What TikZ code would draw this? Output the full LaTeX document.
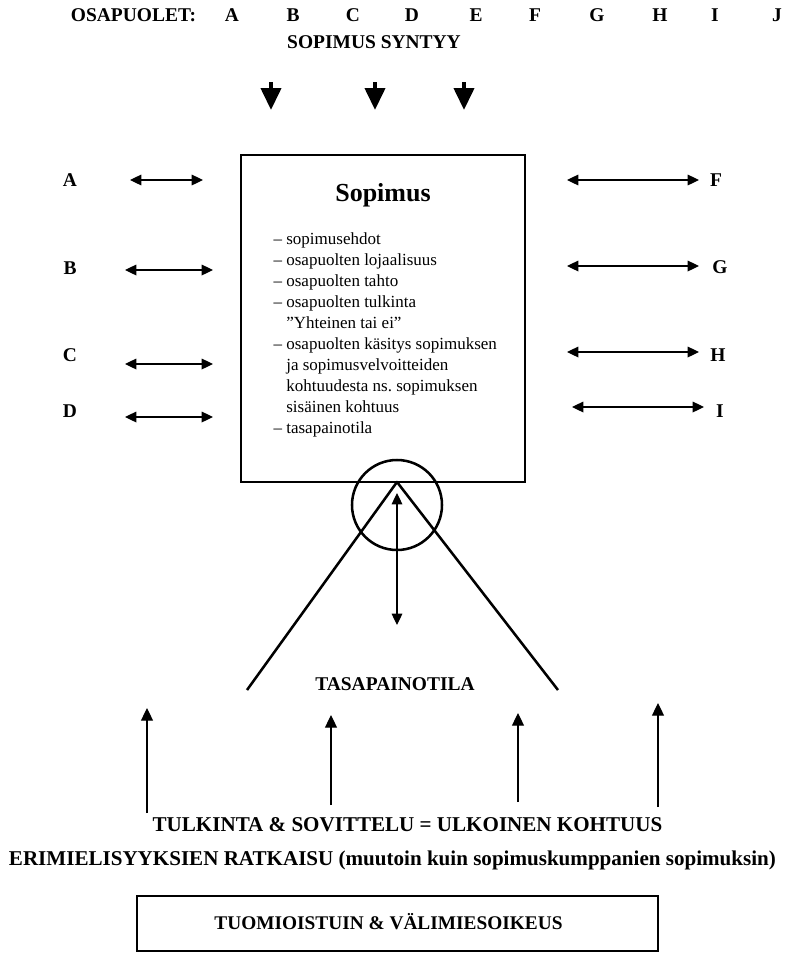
\documentclass[tikz,border=0pt]{standalone}
\usepackage{fontspec}
\setmainfont{Liberation Serif}
\usetikzlibrary{arrows.meta, positioning}
\tikzset{
  every picture/.style={line width=0.9pt},
  lbl/.style={font=\fontsize{14.6}{17}\selectfont\bfseries, inner sep=0pt, anchor=base},
  biglbl/.style={font=\fontsize{15.8}{18}\selectfont\bfseries, inner sep=0pt, anchor=base},
  frame/.style={draw, line width=2.2pt, inner sep=0pt},
  heavy/.style={-{Triangle[length=16.5pt, width=15pt]}, line width=3pt},
  twoway/.style={{Triangle[length=8.5pt, width=8pt]}-{Triangle[length=8.5pt, width=8pt]}, line width=0.9pt},
  rise/.style={-{Triangle[length=9.5pt, width=9pt]}, line width=0.9pt},
  terms/.style={font=\fontsize{12.75}{15.7}\selectfont, align=left, inner sep=0pt, anchor=north west},
}

\begin{document}
\begin{tikzpicture}[x=0.75pt, y=-0.75pt]
  \useasboundingbox (0,0) rectangle (794,954);
  % ---- parties
  \node[lbl] (osap) at (133.5,21.7) {OSAPUOLET:};
  \node[lbl] (tA) at (232,21.7) {A}; \node[lbl] (tB) at (293,21.7) {B}; \node[lbl] (tC) at (353,21.7) {C};
  \node[lbl] (tD) at (412,21.7) {D}; \node[lbl] (tE) at (476,21.7) {E}; \node[lbl] (tF) at (535,21.7) {F};
  \node[lbl] (tG) at (597,21.7) {G}; \node[lbl] (tH) at (660,21.7) {H}; \node[lbl] (tI) at (715,21.7) {I};
  \node[lbl] (tJ) at (777,21.7) {J};
  \node[lbl] (syntyy) at (374,48.3) {SOPIMUS SYNTYY};
  \coordinate (d1) at (271,82); \coordinate (d2) at (375,82); \coordinate (d3) at (464,82);
  \coordinate (f1) at (271,110); \coordinate (f2) at (375,110); \coordinate (f3) at (464,110);
  \draw[heavy] (d1) -- (f1); \draw[heavy] (d2) -- (f2); \draw[heavy] (d3) -- (f3);
  % ---- the contract
  \node[frame, minimum width=213pt, minimum height=245.25pt] (sopbox) at (383,318.5) {};
  \node[font=\fontsize{19.5}{23}\selectfont\bfseries, inner sep=0pt, anchor=base] (title) at (383,201.7) {Sopimus};
  \node[terms] (list) at (273,232.4) {-- sopimusehdot\\
    -- osapuolten lojaalisuus\\
    -- osapuolten tahto\\
    -- osapuolten tulkinta\\
    \hphantom{-- }”Yhteinen tai ei”\\
    -- osapuolten käsitys sopimuksen\\
    \hphantom{-- }ja sopimusvelvoitteiden\\
    \hphantom{-- }kohtuudesta ns.\ sopimuksen\\
    \hphantom{-- }sisäinen kohtuus\\
    -- tasapainotila};
  % ---- left side
  \node[lbl] (sA) at (70,186) {A}; \node[lbl] (sB) at (70,274) {B};
  \node[lbl] (sC) at (70,361) {C}; \node[lbl] (sD) at (70,417) {D};
  \coordinate (la1) at (130,180); \coordinate (la2) at (203,180); \draw[twoway] (la1) -- (la2);
  \coordinate (lb1) at (125,270); \coordinate (lb2) at (213,270); \draw[twoway] (lb1) -- (lb2);
  \coordinate (lc1) at (125,364); \coordinate (lc2) at (213,364); \draw[twoway] (lc1) -- (lc2);
  \coordinate (ld1) at (125,417); \coordinate (ld2) at (213,417); \draw[twoway] (ld1) -- (ld2);
  % ---- right side
  \node[lbl] (sF) at (716,186) {F}; \node[lbl] (sG) at (720,273) {G};
  \node[lbl] (sH) at (718,361) {H}; \node[lbl] (sI) at (720,417) {I};
  \coordinate (rf1) at (567,180); \coordinate (rf2) at (699,180); \draw[twoway] (rf1) -- (rf2);
  \coordinate (rg1) at (567,266); \coordinate (rg2) at (699,266); \draw[twoway] (rg1) -- (rg2);
  \coordinate (rh1) at (567,352); \coordinate (rh2) at (699,352); \draw[twoway] (rh1) -- (rh2);
  \coordinate (ri1) at (572,407); \coordinate (ri2) at (704,407); \draw[twoway] (ri1) -- (ri2);
  % ---- balance
  \node[draw, circle, line width=1.9pt, minimum size=67.5pt, inner sep=0pt] (pivot) at (397,505) {};
  \coordinate (apex) at (397,482); \coordinate (footL) at (247,690); \coordinate (footR) at (558,690);
  \draw[line width=1.9pt, line join=round] (footL) -- (apex) -- (footR);
  \coordinate (bt) at (397,493); \coordinate (bb) at (397,625); \draw[twoway] (bt) -- (bb);
  \node[lbl] (balance) at (395,690) {TASAPAINOTILA};
  % ---- outside
  \coordinate (u1) at (147,813); \coordinate (v1) at (147,708); \draw[rise] (u1) -- (v1);
  \coordinate (u2) at (331,805); \coordinate (v2) at (331,715); \draw[rise] (u2) -- (v2);
  \coordinate (u3) at (518,802); \coordinate (v3) at (518,713); \draw[rise] (u3) -- (v3);
  \coordinate (u4) at (658,807); \coordinate (v4) at (658,703); \draw[rise] (u4) -- (v4);
  \node[biglbl] (tulk) at (407.5,831) {TULKINTA \& SOVITTELU = ULKOINEN KOHTUUS};
  \node[biglbl] (erim) at (392.5,865) {ERIMIELISYYKSIEN RATKAISU (muutoin kuin sopimuskumppanien sopimuksin)};
  \node[frame, minimum width=390.75pt, minimum height=41.25pt, font=\fontsize{14.5}{17}\selectfont\bfseries,
    text height=9.6pt, text depth=0pt] (court) at (397.5,923.5) {TUOMIOISTUIN \& VÄLIMIESOIKEUS\hspace*{13.5pt}};
\end{tikzpicture}
\end{document}
